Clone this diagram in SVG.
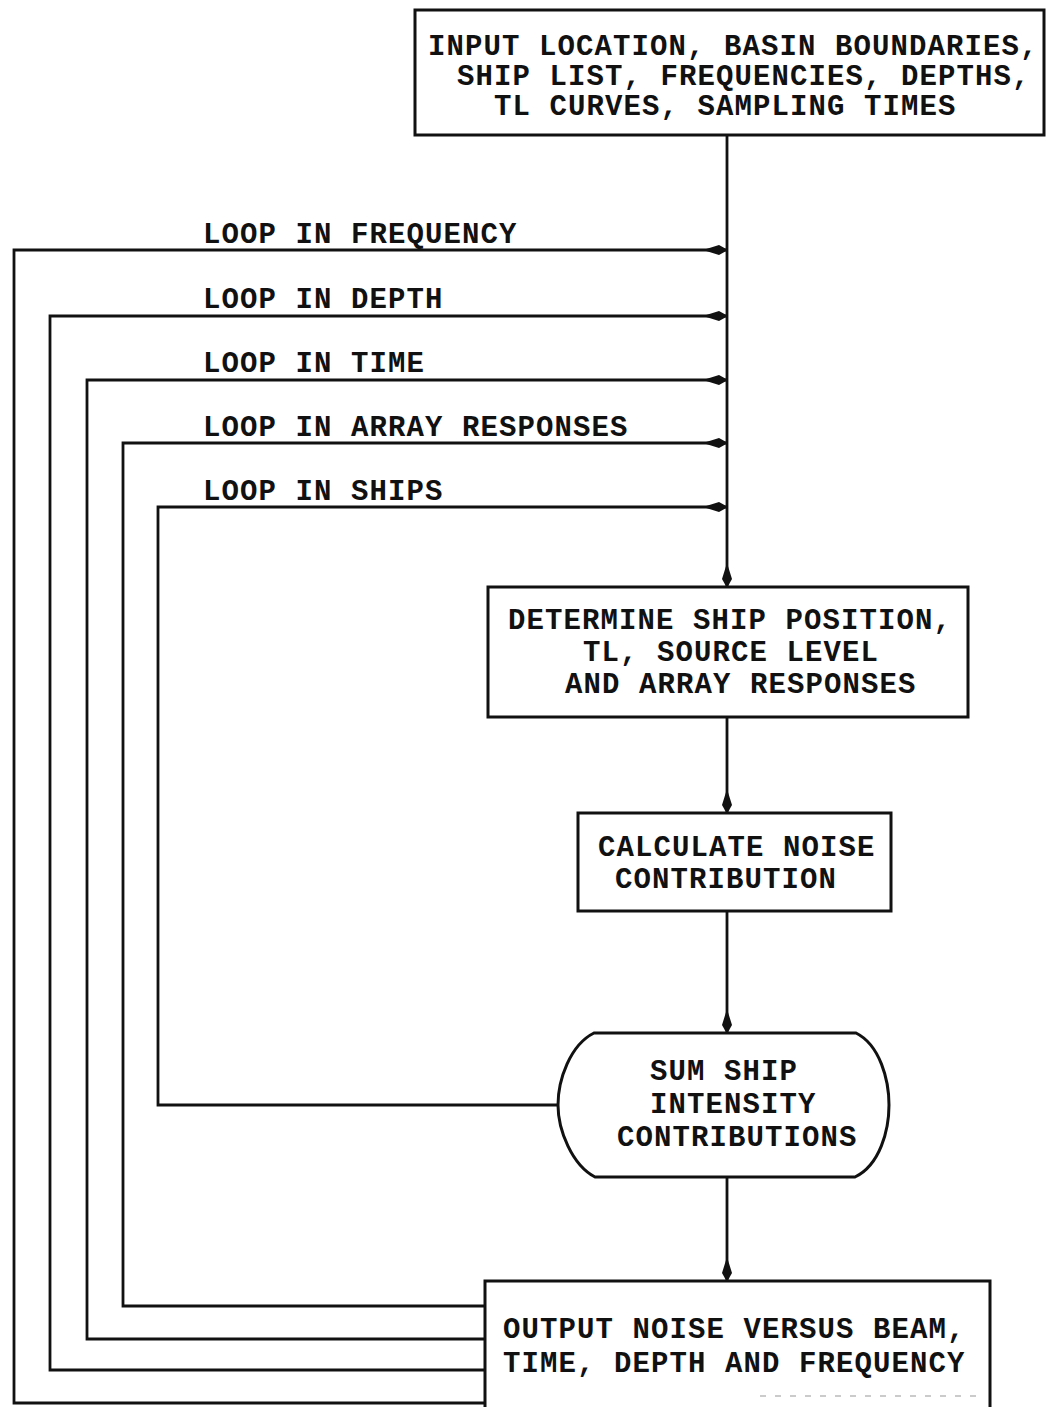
<svg xmlns="http://www.w3.org/2000/svg" width="1048" height="1407" viewBox="0 0 1048 1407">
<style>
.box{fill:none;stroke:#111;stroke-width:3;stroke-linejoin:miter}
.ln{fill:none;stroke:#111;stroke-width:2.8}
.t{font-family:"Liberation Mono","DejaVu Sans Mono",monospace;font-weight:bold;font-size:29px;letter-spacing:1.1px;fill:#111}
</style>
<defs>
<marker id="ah" markerUnits="userSpaceOnUse" markerWidth="30" markerHeight="16" viewBox="-27 -8 29 16" refX="0" refY="0" orient="auto">
<path d="M1,0 L-8,-5 L-24,0 L-8,5 Z" fill="#111"/>
</marker>
</defs>
<rect width="1048" height="1407" fill="#fff"/>
<g id="connectors">
<path class="ln" d="M727,135 V587" marker-end="url(#ah)"/>
<path class="ln" d="M727,717 V813" marker-end="url(#ah)"/>
<path class="ln" d="M727,911 V1033" marker-end="url(#ah)"/>
<path class="ln" d="M727,1177 V1281" marker-end="url(#ah)"/>
<path class="ln" d="M485,1403 H14 V250 H727" marker-end="url(#ah)"/>
<path class="ln" d="M485,1370 H50 V316 H727" marker-end="url(#ah)"/>
<path class="ln" d="M485,1339 H87 V380 H727" marker-end="url(#ah)"/>
<path class="ln" d="M485,1306 H123 V443 H727" marker-end="url(#ah)"/>
<path class="ln" d="M558,1105 H158 V507 H727" marker-end="url(#ah)"/>
</g>
<g id="label-freq"><text class="t" x="203" y="243">LOOP IN FREQUENCY</text></g>
<g id="label-depth"><text class="t" x="203" y="308">LOOP IN DEPTH</text></g>
<g id="label-time"><text class="t" x="203" y="372">LOOP IN TIME</text></g>
<g id="label-array"><text class="t" x="203" y="436">LOOP IN ARRAY RESPONSES</text></g>
<g id="label-ships"><text class="t" x="203" y="500">LOOP IN SHIPS</text></g>
<g id="input">
<rect class="box" x="415" y="10" width="629" height="125"/>
<text class="t" x="428" y="55">INPUT LOCATION, BASIN BOUNDARIES,</text>
<text class="t" x="457" y="85">SHIP LIST, FREQUENCIES, DEPTHS,</text>
<text class="t" x="494" y="115">TL CURVES, SAMPLING TIMES</text>
</g>
<g id="determine">
<rect class="box" x="488" y="587" width="480" height="130"/>
<text class="t" x="508" y="629">DETERMINE SHIP POSITION,</text>
<text class="t" x="583" y="661">TL, SOURCE LEVEL</text>
<text class="t" x="565" y="693">AND ARRAY RESPONSES</text>
</g>
<g id="calculate">
<rect class="box" x="578" y="813" width="313" height="98"/>
<text class="t" x="598" y="856">CALCULATE NOISE</text>
<text class="t" x="615" y="888">CONTRIBUTION</text>
</g>
<g id="sum">
<path class="box" d="M594,1033 H856 C880,1045 889,1080 889,1105 C889,1130 880,1165 855,1177 H595 C572,1165 558,1130 558,1105 C558,1080 570,1045 594,1033 Z"/>
<text class="t" x="650" y="1080">SUM SHIP</text>
<text class="t" x="650" y="1113">INTENSITY</text>
<text class="t" x="617" y="1146">CONTRIBUTIONS</text>
</g>
<g id="output">
<path class="box" d="M485,1407 V1281 H990 V1407"/>
<path d="M760,1396 H985" stroke="#bbb" stroke-width="1.5" stroke-dasharray="6 9" fill="none"/>
<text class="t" x="503" y="1338">OUTPUT NOISE VERSUS BEAM,</text>
<text class="t" x="503" y="1372">TIME, DEPTH AND FREQUENCY</text>
</g>
</svg>
